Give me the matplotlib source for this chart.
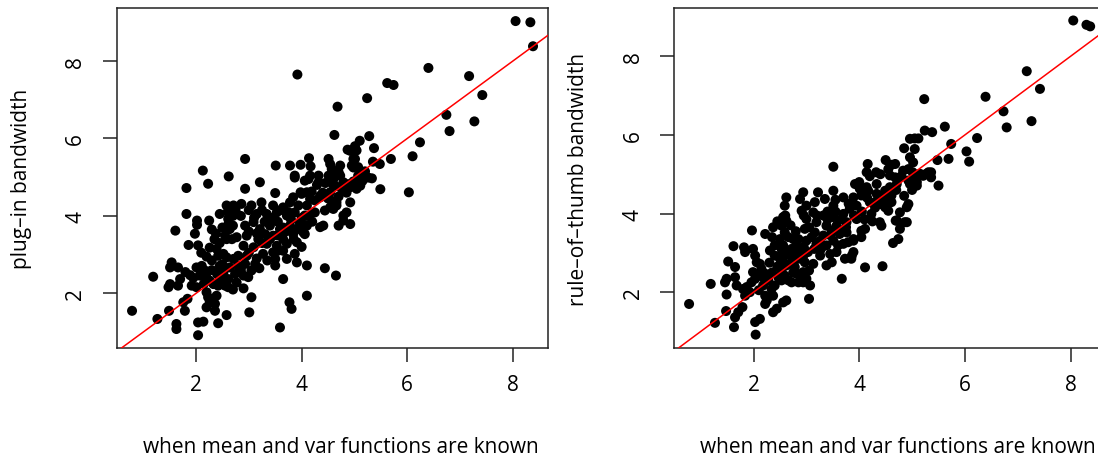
import matplotlib
matplotlib.use("Agg")
import matplotlib.pyplot as plt

plt.rcParams['font.family'] = ['Open Sans', 'DejaVu Sans']

# bandwidths, left panel: plug-in vs known mean/var
x_plugin = [
    2.13, 2.62, 2.23, 1.82, 2.58, 2.71, 1.82, 2.02, 2.02, 2.25, 1.61, 1.98, 2.38,
    1.86, 2.04, 2.26, 2.61, 2.61, 2.64, 2.55, 2.58, 2.68, 2.77, 2.39, 2.52, 2.42,
    2.58, 2.71, 2.80, 1.54, 1.51, 1.66, 1.19, 1.89, 2.01, 2.11, 2.17, 2.07, 2.20,
    2.26, 2.33, 1.51, 1.48, 1.70, 1.66, 1.92, 2.01, 2.20, 2.23, 2.26, 2.36, 2.39,
    1.76, 1.79, 1.84, 0.79, 1.27, 1.49, 1.63, 1.63, 2.04, 2.14, 2.04, 2.42, 2.58,
    2.20, 2.36, 2.52, 2.61, 2.61, 2.77, 2.74, 2.45, 2.64, 2.80, 2.42, 2.45, 3.59,
    3.92, 4.68, 5.24, 4.62, 5.28, 5.10, 5.01, 5.04, 4.87, 5.37, 2.93, 3.51, 3.78,
    3.98, 4.14, 4.17, 4.51, 4.54, 4.57, 4.73, 4.70, 4.66, 4.98, 4.95, 5.07, 5.35,
    5.48, 3.87, 4.16, 4.32, 3.21, 2.93, 3.50, 3.98, 4.10, 4.19, 3.84, 4.35, 4.29,
    4.60, 4.73, 4.79, 4.89, 4.98, 5.04, 5.11, 5.26, 5.33, 5.49, 4.92, 4.85, 4.79,
    4.70, 4.92, 4.35, 4.41, 4.57, 4.54, 4.44, 4.66, 4.22, 4.10, 4.16, 2.86, 3.05,
    3.24, 3.46, 3.65, 3.78, 3.94, 3.15, 3.34, 3.53, 3.72, 3.87, 4.06, 2.93, 3.09,
    3.21, 3.40, 3.59, 3.78, 3.97, 2.96, 3.18, 3.31, 3.46, 3.65, 3.84, 4.03, 2.90,
    3.09, 3.34, 3.53, 3.72, 3.91, 2.96, 3.27, 3.46, 3.65, 3.87, 3.50, 3.72, 2.93,
    3.12, 3.50, 3.91, 3.05, 2.90, 2.99, 3.65, 4.10, 4.44, 4.65, 2.90, 3.05, 4.10,
    3.77, 3.81, 3.01, 4.79, 4.03, 4.06, 3.97, 4.60, 4.25, 4.10, 4.00, 4.35, 4.54,
    4.66, 4.63, 4.79, 4.92, 5.01, 5.11, 4.13, 4.32, 4.63, 4.73, 8.05, 8.33, 8.38,
    6.40, 5.62, 5.74, 7.17, 7.42, 6.74, 6.80, 7.27, 6.24, 6.10, 5.69, 6.03,
    2.60, 2.75, 2.85, 3.00, 3.10, 3.25, 3.30, 3.45, 3.55, 3.60, 3.70, 3.80, 3.90,
    4.00, 4.10, 4.20, 4.25, 4.40, 4.50, 4.70, 4.85, 3.00, 3.15, 3.25, 3.40, 3.55,
    3.65, 3.85, 4.00, 3.00, 3.15, 3.35, 3.55, 3.20, 2.85, 3.75, 4.51, 4.66, 4.92,
    5.01, 4.98, 5.07, 3.87, 4.06, 4.45, 4.60, 5.15, 5.20, 2.30, 2.20, 2.10, 2.45,
    2.35, 2.50, 2.30, 2.40, 2.55, 2.70, 2.15, 1.95, 1.80, 2.30, 2.50, 2.70, 2.45,
    2.70,
]
y_plugin = [
    5.17, 5.02, 4.83, 4.72, 4.27, 4.27, 4.05, 3.88, 3.77, 3.88, 3.62, 3.54, 3.54,
    3.25, 3.24, 3.18, 3.92, 3.77, 3.66, 3.49, 3.40, 3.40, 3.45, 3.15, 3.02, 2.97,
    2.93, 2.89, 2.97, 2.80, 2.67, 2.67, 2.43, 2.47, 2.67, 2.71, 2.59, 2.46, 2.41,
    2.33, 2.24, 2.24, 2.16, 2.37, 2.20, 2.20, 2.16, 2.03, 1.90, 1.77, 1.73, 1.94,
    1.77, 1.55, 1.86, 1.55, 1.34, 1.55, 1.21, 1.08, 1.25, 1.27, 0.92, 1.23, 1.44,
    1.64, 1.55, 2.54, 2.37, 2.16, 2.28, 2.50, 2.71, 2.67, 2.71, 2.20, 2.37, 1.12,
    7.65, 6.82, 7.04, 6.09, 6.06, 5.94, 5.80, 5.69, 5.71, 5.75, 5.47, 5.30, 5.30,
    5.32, 5.49, 5.28, 5.47, 5.34, 5.21, 5.30, 5.13, 5.04, 5.47, 5.30, 5.26, 5.40,
    5.34, 4.99, 5.04, 5.04, 4.87, 4.70, 4.59, 4.61, 4.61, 4.63, 4.48, 4.52, 4.80,
    4.80, 4.74, 4.65, 4.82, 4.89, 4.70, 4.78, 4.99, 4.97, 4.69, 4.35, 4.09, 4.01,
    3.75, 3.79, 3.71, 3.75, 4.39, 4.22, 4.14, 4.27, 4.09, 4.27, 4.44, 4.31, 4.27,
    4.35, 4.27, 4.22, 4.35, 4.27, 4.05, 4.05, 4.09, 4.01, 4.09, 4.01, 3.75, 3.84,
    3.66, 3.75, 3.66, 3.75, 3.79, 3.49, 3.40, 3.53, 3.49, 3.40, 3.53, 3.58, 3.23,
    3.19, 3.28, 3.23, 3.28, 3.32, 2.97, 3.02, 3.06, 3.10, 3.02, 2.89, 2.89, 2.76,
    2.76, 2.72, 2.80, 2.59, 2.46, 2.42, 2.37, 2.72, 2.65, 2.46, 2.13, 1.90, 1.94,
    1.77, 1.60, 1.51, 3.88, 3.62, 3.53, 3.83, 4.18, 4.09, 4.00, 4.57, 4.48, 4.61,
    4.35, 4.78, 4.87, 4.74, 4.82, 5.04, 4.95, 4.87, 5.12, 5.04, 9.03, 9.00, 8.38,
    7.82, 7.43, 7.38, 7.61, 7.12, 6.61, 6.19, 6.44, 5.90, 5.54, 5.47, 4.61,
    4.10, 4.15, 4.00, 4.15, 3.95, 4.15, 3.85, 3.95, 3.85, 4.15, 3.60, 3.90, 3.65,
    3.95, 3.75, 3.85, 4.40, 4.60, 4.45, 4.50, 4.60, 3.60, 3.55, 3.30, 3.40, 3.50,
    3.70, 3.40, 3.20, 3.05, 2.90, 2.85, 3.10, 2.65, 2.60, 4.10, 5.04, 5.08, 5.68,
    5.47, 5.25, 5.04, 5.04, 4.91, 4.85, 4.95, 4.90, 5.15, 2.85, 2.95, 3.05, 3.30,
    3.40, 2.75, 2.60, 2.50, 2.20, 2.10, 2.25, 2.40, 2.55, 3.65, 3.70, 3.75, 4.05,
    4.00,
]

# right panel: rule-of-thumb vs known mean/var
x_rot = [
    0.78, 1.19, 1.27, 1.48, 1.63, 1.65, 1.71, 1.79, 2.04, 2.03, 2.12, 1.49, 1.49,
    1.46, 1.52, 1.62, 1.65, 1.65, 1.68, 1.82, 1.84, 1.97, 1.80, 1.87, 1.93, 1.84,
    1.96, 2.03, 1.99, 1.99, 2.03, 2.06, 2.12, 2.15, 2.22, 2.12, 2.22, 2.37, 2.35,
    2.18, 2.22, 2.25, 2.22, 2.34, 2.37, 2.28, 2.40, 2.37, 2.44, 2.31, 2.40, 2.40,
    2.50, 2.53, 2.56, 2.62, 2.56, 2.62, 2.53, 2.59, 2.66, 2.72, 2.47, 2.53, 2.62,
    2.59, 2.56, 2.62, 2.53, 2.59, 2.66, 2.75, 2.85, 2.50, 2.56, 2.72, 2.81, 2.78,
    2.85, 2.72, 2.78, 2.81, 2.85, 2.94,
    5.23, 3.51, 4.16, 4.14, 4.32, 4.50, 4.55, 4.61, 4.68, 4.58, 4.68, 4.85, 4.96,
    5.05, 5.12, 5.05, 4.96, 5.02, 4.93, 5.01, 5.05, 4.96, 5.09, 5.15, 5.27, 5.31,
    5.21, 5.24, 4.83, 4.77, 4.71, 2.94, 3.22, 3.51, 3.92, 4.01, 4.14, 4.17, 4.33,
    4.33, 4.49, 4.58, 4.61, 4.52, 3.70, 3.89, 4.04, 4.20, 4.39, 4.49, 4.61, 4.55,
    4.93, 4.90, 4.77, 4.86, 4.71, 4.77, 4.90, 4.74, 4.64, 4.39, 4.42, 4.23, 4.11,
    4.04, 3.89, 3.79, 3.89, 3.73, 3.85, 4.11, 4.44, 3.67, 3.38, 3.26, 3.05, 2.94,
    3.16, 3.35, 3.51, 3.13, 3.32, 3.51, 3.70, 3.82, 3.00, 3.19, 3.38, 3.57, 3.76,
    3.95, 2.97, 3.16, 3.32, 3.48, 3.63, 3.76, 3.00, 3.19, 3.38, 3.51, 3.60, 3.70,
    3.03, 3.26, 3.45, 3.57, 2.97, 3.13, 3.48, 2.91, 3.00, 3.07, 2.91, 3.00, 2.88,
    3.86, 3.89, 4.93, 5.09, 4.99, 4.69, 4.04,
    8.05, 8.30, 8.37, 7.17, 7.42, 6.39, 6.73, 6.79, 7.26, 6.23, 5.62, 5.38, 5.74,
    6.03, 6.08, 5.69, 5.48, 5.36, 5.36, 5.50,
    2.45, 2.60, 2.70, 2.80, 2.95, 3.05, 3.10, 3.20, 3.25, 3.40, 3.45, 3.55, 3.60,
    3.65, 3.75, 3.80, 3.90, 3.95, 4.05, 4.10, 4.15, 4.30, 4.35, 4.45, 4.25, 3.30,
    3.15, 2.95, 2.85, 2.65, 2.45, 2.35, 2.20, 2.10, 2.30, 2.75, 2.95, 3.05, 2.55,
    4.70, 4.85, 4.80, 5.00, 3.40, 3.55, 4.00, 4.20, 4.40,
]
y_rot = [
    1.70, 2.21, 1.22, 1.52, 1.11, 1.36, 1.49, 1.62, 0.92, 1.24, 1.32, 1.94, 2.34,
    2.25, 2.78, 3.17, 2.64, 2.38, 2.17, 3.14, 3.02, 3.57, 2.08, 2.13, 2.00, 1.91,
    2.25, 2.34, 2.51, 3.10, 2.93, 2.76, 2.72, 2.59, 2.47, 2.42, 3.48, 3.65, 3.40,
    2.17, 1.91, 1.79, 1.70, 2.08, 1.91, 2.30, 2.17, 1.49, 1.58, 3.06, 3.19, 2.93,
    2.85, 3.10, 2.76, 2.68, 1.74, 1.79, 2.55, 2.42, 2.30, 2.25, 2.38, 2.30, 4.41,
    4.20, 3.91, 3.82, 3.69, 3.52, 3.40, 3.35, 3.35, 3.35, 3.19, 3.10, 3.19, 2.93,
    2.85, 2.76, 2.64, 2.47, 2.25, 2.25,
    6.91, 5.19, 5.26, 5.05, 5.05, 5.36, 5.13, 5.24, 5.26, 4.97, 4.92, 5.66, 5.90,
    5.91, 5.91, 5.64, 5.43, 5.30, 5.13, 5.05, 4.88, 4.75, 4.71, 5.01, 5.01, 5.05,
    4.96, 6.11, 5.09, 4.92, 4.75, 4.54, 4.54, 4.58, 4.75, 4.63, 4.67, 4.58, 4.75,
    4.50, 4.58, 4.67, 4.46, 4.37, 4.41, 4.41, 4.46, 4.29, 4.24, 4.16, 4.29, 4.07,
    4.24, 4.16, 4.03, 3.78, 3.82, 3.61, 3.78, 3.35, 3.25, 3.78, 3.69, 3.99, 3.61,
    3.56, 3.35, 3.27, 3.02, 2.85, 2.85, 2.63, 2.66, 2.34, 2.68, 2.93, 1.83, 2.51,
    4.29, 4.37, 4.20, 4.03, 3.95, 3.91, 3.99, 4.12, 3.86, 3.78, 3.69, 3.69, 3.78,
    3.86, 3.61, 3.52, 3.44, 3.57, 3.48, 3.52, 3.31, 3.23, 3.19, 3.31, 3.19, 3.23,
    3.02, 3.06, 2.97, 3.02, 2.76, 2.72, 2.76, 2.42, 2.34, 2.17, 4.07, 4.20, 4.37,
    2.93, 3.31, 4.84, 4.80, 4.75, 3.82, 3.40,
    8.91, 8.80, 8.76, 7.62, 7.17, 6.97, 6.60, 6.19, 6.35, 5.92, 6.21, 6.07, 5.77,
    5.58, 5.32, 5.39, 5.36, 5.05, 4.92, 4.71,
    3.80, 3.95, 3.70, 3.55, 3.95, 3.65, 3.40, 3.95, 3.30, 3.85, 3.45, 4.05, 3.60,
    3.85, 3.65, 4.25, 3.95, 4.20, 4.05, 3.85, 4.40, 4.15, 4.35, 4.45, 3.80, 3.15,
    3.10, 3.15, 3.05, 2.95, 2.65, 2.50, 2.35, 2.05, 2.75, 2.50, 2.95, 2.55, 3.05,
    4.60, 4.45, 4.95, 4.60, 4.05, 4.35, 4.80, 4.95, 5.00,
]

ticks = [2, 4, 6, 8]
xlabel = "when mean and var functions are known"
ylabel_plugin = "plug\u2013in bandwidth"
ylabel_rot = "rule\u2013of\u2013thumb bandwidth"

fig = plt.figure(figsize=(10.98, 4.60), dpi=100)
ax1 = fig.add_axes([0.1063, 0.2413, 0.3931, 0.7385])
ax2 = fig.add_axes([0.6141, 0.2413, 0.3932, 0.7385])

panels = [
    (ax1, x_plugin, y_plugin, ylabel_plugin, (0.59, 9.36)),
    (ax2, x_rot, y_rot, ylabel_rot, (0.58, 9.22)),
]

for ax, xs, ys, ylab, ylim in panels:
    ax.scatter(xs, ys, s=52, c="black", edgecolors="none", zorder=2)
    ax.axline((0, 0), slope=1, color="red", lw=1.1, zorder=3)
    ax.set_xlim(0.50, 8.67)
    ax.set_ylim(*ylim)
    ax.set_xticks(ticks)
    ax.set_yticks(ticks)
    for sp in ax.spines.values():
        sp.set_color("#222222")
        sp.set_linewidth(1.1)
    ax.tick_params(length=10, width=1.1, color="#222222", labelsize=15, pad=9)
    ax.tick_params(axis="y", labelrotation=90, pad=12)
    for lab in ax.get_yticklabels():
        lab.set_va("center")
    ax.set_xlabel(xlabel, fontsize=15)
    ax.xaxis.set_label_coords(0.519, -0.258)
    ax.set_ylabel(ylab, fontsize=15, labelpad=24)

fig.savefig("out.png", dpi=100)
